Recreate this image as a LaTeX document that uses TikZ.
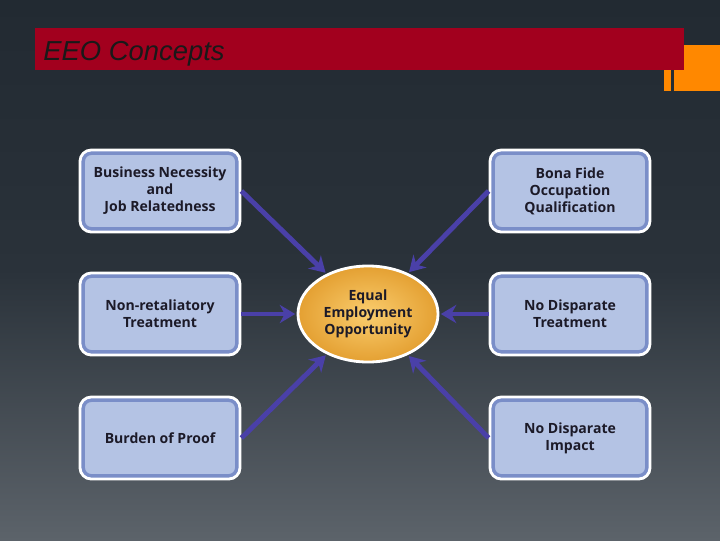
\documentclass[tikz,border=0pt]{standalone}
\usepackage{fontspec}
\usepackage{tikz}
\usetikzlibrary{
  arrows.meta,
  shapes.geometric,
  positioning
}
\newfontfamily\titlefont{Liberation Sans}
\newfontfamily\conceptfont{Open Sans}
\definecolor{slatetop}{RGB}{34,42,50}
\definecolor{slatemid}{RGB}{42,50,58}
\definecolor{slatebot}{RGB}{92,99,106}
\definecolor{bannerred}{RGB}{162,0,30}
\definecolor{xorange}{RGB}{255,136,0}
\definecolor{boxblue}{RGB}{180,195,228}
\definecolor{boxedge}{RGB}{122,142,200}
\definecolor{goldin}{RGB}{250,205,110}
\definecolor{goldout}{RGB}{228,160,50}
\definecolor{arrowblue}{RGB}{74,64,168}
\definecolor{inkdark}{RGB}{28,26,40}

\begin{document}
\begin{tikzpicture}[x=0.025cm, y=-0.025cm,
  concept/.style={draw=white, fill=boxblue, rounded corners=8pt, line width=2pt,
                  minimum width=4.0cm, minimum height=2.05cm,
                  font=\conceptfont\bfseries\fontsize{10}{12}\selectfont, text=inkdark, align=center,
                  path picture={\draw[boxedge, line width=7pt, rounded corners=8pt]
                    (path picture bounding box.south west) rectangle (path picture bounding box.north east);}},
  hub/.style={ellipse, draw=white, line width=2pt, inner color=goldin, outer color=goldout,
              minimum width=3.5cm, minimum height=2.4cm, inner sep=0pt,
              font=\conceptfont\bfseries\fontsize{10}{12}\selectfont, text=inkdark, align=center},
  arr/.style={-{Stealth[length=11pt, width=13pt]}, line width=3.5pt, color=arrowblue, shorten >=1pt}
]
  % background and banner
  \useasboundingbox (0,0) rectangle (720,540);
  \shade[top color=slatetop, bottom color=slatebot, middle color=slatemid] (0,0) rectangle (720,540);
  \fill[xorange] (674,45) rectangle (720,91);
  \fill[xorange] (664,70) rectangle (671,91);
  \fill[bannerred] (35,28) rectangle (684,70);
  \node[anchor=base west, font=\titlefont\itshape\fontsize{19.5}{22}\selectfont, text=black!90, inner sep=0pt]
    (title) at (43,60) {EEO Concepts};

  % concepts
  \node[hub]     (eeo) at (368,314) {Equal\\Employment\\Opportunity};
  \node[concept] (bn)  at (160,191) {Business Necessity\\and\\Job Relatedness};
  \node[concept] (bf)  at (570,191) {Bona Fide\\Occupation\\Qualification};
  \node[concept] (nr)  at (160,314) {Non-retaliatory\\Treatment};
  \node[concept] (dt)  at (570,314) {No Disparate\\Treatment};
  \node[concept] (bp)  at (160,438) {Burden of Proof};
  \node[concept] (di)  at (570,438) {No Disparate\\Impact};

  \foreach \from/\side in {bn/east,nr/east,bp/east,bf/west,dt/west,di/west}{
    \draw[arr] (\from.\side) -- (eeo);
  }
\end{tikzpicture}
\end{document}
